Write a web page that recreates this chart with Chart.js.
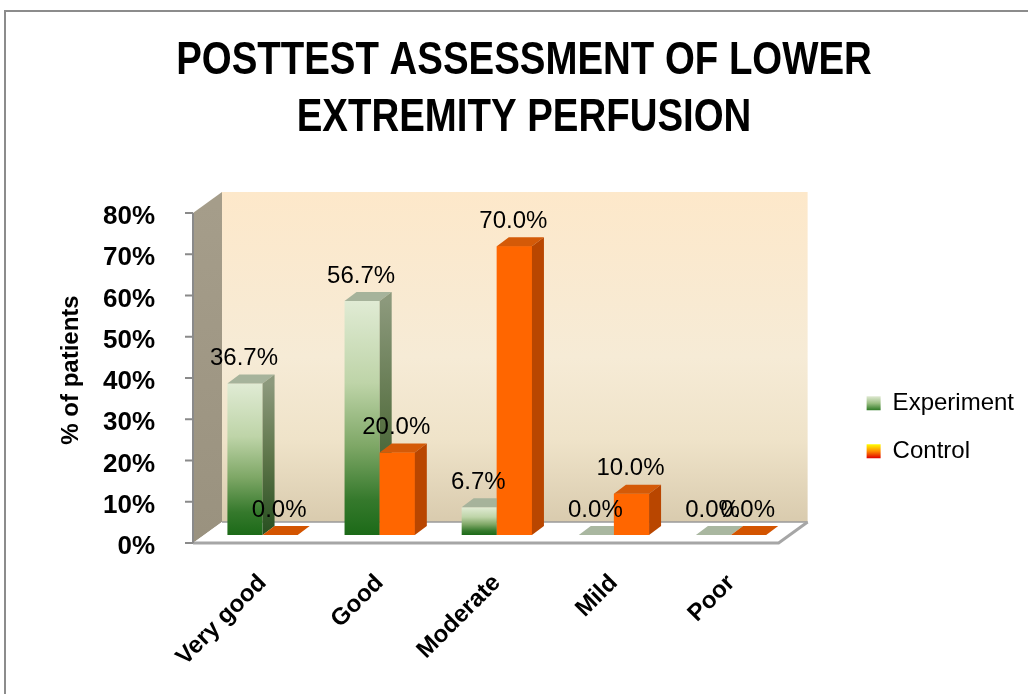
<!DOCTYPE html>
<html><head><meta charset="utf-8">
<script src="https://cdn.jsdelivr.net/npm/chart.js@4.4.1/dist/chart.umd.min.js"></script>
<style>html,body{margin:0;padding:0;background:#fff}canvas{display:block}</style>
</head><body>
<canvas id="c" width="1028" height="694"></canvas>
<script>
const categories = ['Very good', 'Good', 'Moderate', 'Mild', 'Poor'];
const seriesNames = ['Experiment', 'Control'];
const experimentValues = [36.7, 56.7, 6.7, 0.0, 0.0];
const controlValues = [0.0, 20.0, 70.0, 10.0, 0.0];
const yTickValues = [0, 10, 20, 30, 40, 50, 60, 70, 80];
const titleLines = ['POSTTEST ASSESSMENT OF LOWER', 'EXTREMITY PERFUSION'];
const yAxisTitle = '% of patients';

const FONT = "'Liberation Sans', Arial, sans-serif";
const DEPTH = {dx: 12, dy: -9};   // bar depth
const FRONT = {dx: -11, dy: 8};   // front axis plane relative to bar fronts
const BACK = {dx: 18, dy: -13};   // back wall relative to bar fronts
const TITLE_SIZE = 46, TITLE_LH = 57, TITLE_SX = 0.835;

function expFront(c) {
  const chart = c.chart, area = chart.chartArea;
  if (!area || c.type !== 'data') return '#7fa767';
  const ys = chart.scales.y;
  const top = ys.getPixelForValue(c.raw), bot = ys.getPixelForValue(0);
  if (bot - top < 1) return '#a9b8a0';
  const g = chart.ctx.createLinearGradient(0, top, 0, bot);
  g.addColorStop(0, '#e0ebd4');
  g.addColorStop(0.35, '#bed4a8');
  g.addColorStop(0.62, '#7ea766');
  g.addColorStop(0.85, '#35792c');
  g.addColorStop(1, '#1c6a18');
  return g;
}

function drawFaces(ctx, el, di) {
  const x1 = el.x - el.width / 2, x2 = el.x + el.width / 2, y = el.y, b = el.base;
  const h = b - y;
  ctx.beginPath();
  ctx.moveTo(x1, y);
  ctx.lineTo(x1 + DEPTH.dx, y + DEPTH.dy);
  ctx.lineTo(x2 + DEPTH.dx, y + DEPTH.dy);
  ctx.lineTo(x2, y);
  ctx.closePath();
  ctx.fillStyle = di === 0 ? (h < 1 ? '#a9b7a0' : '#a6b39b') : (h < 1 ? '#d35400' : '#d45a08');
  ctx.fill();
  if (h >= 1) {
    let sg;
    if (di === 0) {
      sg = ctx.createLinearGradient(0, y, 0, b);
      sg.addColorStop(0, '#8c997c');
      sg.addColorStop(0.5, '#5c7448');
      sg.addColorStop(1, '#274f20');
    } else {
      sg = '#b94600';
    }
    ctx.beginPath();
    ctx.moveTo(x2, y);
    ctx.lineTo(x2 + DEPTH.dx, y + DEPTH.dy);
    ctx.lineTo(x2 + DEPTH.dx, b + DEPTH.dy);
    ctx.lineTo(x2, b);
    ctx.closePath();
    ctx.fillStyle = sg;
    ctx.fill();
  }
}

const scenePlugin = {
  id: 'scene',
  beforeDraw(chart) {
    const ctx = chart.ctx;
    ctx.save();
    ctx.fillStyle = '#fff';
    ctx.fillRect(0, 0, chart.width, chart.height);
    ctx.strokeStyle = '#8c8c8c';
    ctx.lineWidth = 2;
    ctx.beginPath();
    ctx.moveTo(5, chart.height + 5);
    ctx.lineTo(5, 11);
    ctx.lineTo(chart.width + 5, 11);
    ctx.stroke();
    ctx.restore();
    const lg = chart.legend;
    if (lg && lg.legendItems && lg.legendHitBoxes) {
      lg.legendItems.forEach((it, i) => {
        const hb = lg.legendHitBoxes[i];
        if (!hb) return;
        const y0 = hb.top + (hb.height - 14) / 2;
        const g = ctx.createLinearGradient(0, y0, 0, y0 + 14);
        if (it.datasetIndex === 0) {
          g.addColorStop(0, '#dfe9d2'); g.addColorStop(0.5, '#9cbf84'); g.addColorStop(1, '#2f7a26');
        } else {
          g.addColorStop(0, '#ffff00'); g.addColorStop(0.5, '#ff8c00'); g.addColorStop(1, '#e00000');
        }
        it.fillStyle = g;
        it.strokeStyle = 'rgba(0,0,0,0)';
        it.lineWidth = 0;
      });
    }
  },
  beforeDatasetsDraw(chart) {
    const ctx = chart.ctx, a = chart.chartArea, ys = chart.scales.y;
    const L = a.left, R = a.right;
    const T = ys.getPixelForValue(yTickValues[yTickValues.length - 1]);
    const Bt = ys.getPixelForValue(0);
    ctx.save();
    let g = ctx.createLinearGradient(0, T + BACK.dy, 0, Bt + BACK.dy);
    g.addColorStop(0, '#fde8ca');
    g.addColorStop(0.5, '#f6ebd6');
    g.addColorStop(0.75, '#efe3c9');
    g.addColorStop(1, '#d9cbae');
    ctx.fillStyle = g;
    ctx.fillRect(L + BACK.dx, T + BACK.dy, R - L, Bt - T);
    g = ctx.createLinearGradient(0, T, 0, Bt);
    g.addColorStop(0, '#a59d8a');
    g.addColorStop(1, '#9a927f');
    ctx.fillStyle = g;
    ctx.beginPath();
    ctx.moveTo(L + FRONT.dx, T + FRONT.dy);
    ctx.lineTo(L + BACK.dx, T + BACK.dy);
    ctx.lineTo(L + BACK.dx, Bt + BACK.dy);
    ctx.lineTo(L + FRONT.dx, Bt + FRONT.dy);
    ctx.closePath();
    ctx.fill();
    ctx.fillStyle = '#ffffff';
    ctx.beginPath();
    ctx.moveTo(L + FRONT.dx, Bt + FRONT.dy);
    ctx.lineTo(L + BACK.dx, Bt + BACK.dy);
    ctx.lineTo(R + BACK.dx, Bt + BACK.dy);
    ctx.lineTo(R + FRONT.dx, Bt + FRONT.dy);
    ctx.closePath();
    ctx.fill();
    ctx.strokeStyle = '#9a9a9a';
    ctx.lineWidth = 1.5;
    ctx.beginPath();
    ctx.moveTo(L + BACK.dx, Bt + BACK.dy);
    ctx.lineTo(R + BACK.dx, Bt + BACK.dy);
    ctx.stroke();
    ctx.strokeStyle = '#a6a6a6';
    ctx.lineWidth = 3;
    ctx.beginPath();
    ctx.moveTo(L + FRONT.dx, Bt + FRONT.dy);
    ctx.lineTo(R + FRONT.dx, Bt + FRONT.dy);
    ctx.lineTo(R + BACK.dx, Bt + BACK.dy);
    ctx.stroke();
    ctx.strokeStyle = '#8a8a8a';
    ctx.lineWidth = 2;
    ctx.beginPath();
    ctx.moveTo(L + FRONT.dx, T + FRONT.dy);
    ctx.lineTo(L + FRONT.dx, Bt + FRONT.dy);
    yTickValues.forEach(v => {
      const y = ys.getPixelForValue(v) + FRONT.dy;
      ctx.moveTo(L + FRONT.dx - 8, y);
      ctx.lineTo(L + FRONT.dx, y);
    });
    ctx.stroke();
    ctx.restore();
  },
  afterDatasetsDraw(chart) {
    const ctx = chart.ctx;
    const m0 = chart.getDatasetMeta(0), m1 = chart.getDatasetMeta(1);
    ctx.save();
    m0.data.forEach((e0, i) => {
      drawFaces(ctx, e0, 0);
      const e1 = m1.data[i];
      if (e1) {
        e1.draw(ctx);
        drawFaces(ctx, e1, 1);
      }
    });
    ctx.restore();
    ctx.save();
    ctx.font = '24px ' + FONT;
    ctx.fillStyle = '#000';
    ctx.textAlign = 'center';
    ctx.textBaseline = 'middle';
    chart.data.datasets.forEach((ds, di) => {
      const meta = chart.getDatasetMeta(di);
      meta.data.forEach((el, i) => {
        ctx.fillText(ds.data[i].toFixed(1) + '%', el.x - 1, el.y - 25);
      });
    });
    ctx.restore();
  },
  afterDraw(chart) {
    const ctx = chart.ctx, tb = chart.titleBlock;
    if (!tb) return;
    const lines = chart.options.plugins.title.text;
    const top = tb.top + chart.options.plugins.title.padding.top;
    ctx.save();
    ctx.fillStyle = '#000';
    ctx.textAlign = 'center';
    ctx.textBaseline = 'middle';
    ctx.font = 'bold ' + TITLE_SIZE + 'px ' + FONT;
    const cx = chart.width / 2 + 10;
    lines.forEach((ln, i) => {
      ctx.save();
      ctx.translate(cx, top + TITLE_LH * (i + 0.5));
      ctx.scale(TITLE_SX, 1);
      ctx.fillText(ln, 0, 0);
      ctx.restore();
    });
    ctx.restore();
  }
};

new Chart(document.getElementById('c'), {
  type: 'bar',
  data: {
    labels: categories,
    datasets: [
      {label: seriesNames[0], data: experimentValues, backgroundColor: expFront, borderWidth: 0},
      {label: seriesNames[1], data: controlValues, backgroundColor: '#ff6600', borderWidth: 0}
    ]
  },
  options: {
    responsive: false,
    animation: false,
    layout: {padding: {left: 57, right: 4, top: 0, bottom: 0}},
    datasets: {bar: {barPercentage: 1, categoryPercentage: 0.6}},
    scales: {
      x: {
        grid: {display: false}, border: {display: false},
        ticks: {minRotation: 45, maxRotation: 45, padding: 26, color: '#000',
                font: {family: FONT, size: 24, weight: 'bold'}},
        afterFit: s => { s.height = 159; }
      },
      y: {
        min: 0, max: 80,
        afterBuildTicks: s => { s.ticks = yTickValues.map(v => ({value: v})); },
        grid: {display: false}, border: {display: false},
        ticks: {callback: v => v + '%', padding: 41, labelOffset: 12, color: '#000',
                font: {family: FONT, size: 26, weight: 'bold'}},
        title: {display: true, text: yAxisTitle, color: '#000', padding: 0,
                font: {family: FONT, size: 24, weight: 'bold'}},
        afterFit: s => { s.width = 147; }
      },
      gap: {
        type: 'linear', position: 'right', display: true,
        grid: {display: false}, border: {display: false}, ticks: {display: false},
        afterFit: s => { s.width = 53; }
      }
    },
    plugins: {
      title: {
        display: true, text: titleLines, color: 'rgba(0,0,0,0)',
        font: {family: FONT, size: TITLE_SIZE, weight: 'bold', lineHeight: TITLE_LH / TITLE_SIZE},
        padding: {top: 33, bottom: 58}
      },
      legend: {
        position: 'right', align: 'start', maxWidth: 300,
        title: {display: true, text: ' ', padding: {top: 366, bottom: 0}, font: {size: 1}},
        labels: {
          boxWidth: 14, boxHeight: 14, padding: 24, color: '#000',
          font: {family: FONT, size: 24},
          sort: (a, b) => a.datasetIndex - b.datasetIndex
        }
      },
      tooltip: {enabled: false}
    }
  },
  plugins: [scenePlugin]
});
</script>
</body></html>
